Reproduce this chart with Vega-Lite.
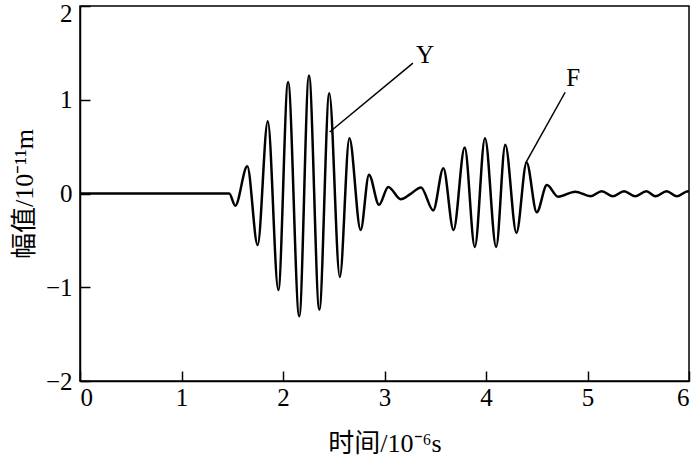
{
  "$schema": "https://vega.github.io/schema/vega-lite/v6.json",
  "width": 609,
  "height": 375,
  "autosize": {"type": "none"},
  "padding": {"left": 80, "top": 6, "right": 4, "bottom": 84},
  "background": "white",
  "config": {
    "view": {"stroke": "black", "strokeWidth": 1.5},
    "font": "'Liberation Serif', 'Noto Sans CJK SC', serif",
    "axis": {
      "domainColor": "black", "domainWidth": 1.5, "tickColor": "black", "tickWidth": 1.5,
      "grid": false, "labelColor": "black", "titleColor": "black",
      "labelFont": "'Liberation Serif', serif", "labelFontSize": 25,
      "titleFont": "'Liberation Serif', 'Noto Sans CJK SC', serif", "titleFontSize": 26, "titleFontWeight": "normal"
    }
  },
  "datasets": {
    "wave": [
      {"t": 0, "a": 0}, {"t": 1.47, "a": 0}, {"t": 1.53, "a": -0.13}, {"t": 1.648, "a": 0.29},
      {"t": 1.75, "a": -0.55}, {"t": 1.85, "a": 0.77}, {"t": 1.954, "a": -1.03}, {"t": 2.05, "a": 1.19},
      {"t": 2.16, "a": -1.31}, {"t": 2.256, "a": 1.26}, {"t": 2.358, "a": -1.24}, {"t": 2.456, "a": 1.07},
      {"t": 2.56, "a": -0.89}, {"t": 2.654, "a": 0.59}, {"t": 2.765, "a": -0.39}, {"t": 2.847, "a": 0.2},
      {"t": 2.946, "a": -0.12}, {"t": 3.037, "a": 0.07}, {"t": 3.16, "a": -0.06}, {"t": 3.25, "a": -0.01},
      {"t": 3.36, "a": 0.065}, {"t": 3.48, "a": -0.18}, {"t": 3.58, "a": 0.27}, {"t": 3.68, "a": -0.39},
      {"t": 3.79, "a": 0.49}, {"t": 3.89, "a": -0.57}, {"t": 3.99, "a": 0.59}, {"t": 4.1, "a": -0.57},
      {"t": 4.19, "a": 0.52}, {"t": 4.3, "a": -0.42}, {"t": 4.4, "a": 0.33}, {"t": 4.5, "a": -0.2},
      {"t": 4.6, "a": 0.09}, {"t": 4.71, "a": -0.034}, {"t": 4.88, "a": 0.02}, {"t": 5.03, "a": -0.03},
      {"t": 5.14, "a": 0.025}, {"t": 5.25, "a": -0.03}, {"t": 5.36, "a": 0.025}, {"t": 5.47, "a": -0.03},
      {"t": 5.58, "a": 0.025}, {"t": 5.67, "a": -0.03}, {"t": 5.78, "a": 0.025}, {"t": 5.88, "a": -0.03},
      {"t": 5.99, "a": 0.025}, {"t": 6.0, "a": 0.02}
    ],
    "pointers": [
      {"t": 3.28, "a": 1.39, "t2": 2.46, "a2": 0.656},
      {"t": 4.78, "a": 1.08, "t2": 4.39, "a2": 0.325}
    ],
    "labels": [
      {"t": 3.40, "a": 1.48, "label": "Y"},
      {"t": 4.86, "a": 1.23, "label": "F"}
    ]
  },
  "layer": [
    {
      "data": {"name": "wave"},
      "mark": {"type": "line", "color": "black", "strokeWidth": 2.5, "interpolate": "monotone", "clip": true},
      "encoding": {
        "x": {"field": "t", "type": "quantitative", "scale": {"domain": [0, 6], "nice": false},
              "axis": {"values": [0, 1, 2, 3, 4, 5, 6], "format": "d", "tickSize": -10, "labelPadding": 14, "title": "时间/10⁻⁶s", "titlePadding": 20}},
        "y": {"field": "a", "type": "quantitative", "scale": {"domain": [-2, 2], "nice": false},
              "axis": {"values": [-2, -1, 0, 1, 2], "format": "d", "tickSize": -10, "labelPadding": 18,
                       "labelOffset": {"condition": {"test": "datum.value == 2", "value": 7}, "value": 0},
                       "title": "幅值/10⁻¹¹m", "titlePadding": 8}}
      }
    },
    {
      "data": {"name": "pointers"},
      "mark": {"type": "rule", "color": "black", "strokeWidth": 1.5},
      "encoding": {
        "x": {"field": "t", "type": "quantitative"},
        "y": {"field": "a", "type": "quantitative"},
        "x2": {"field": "t2"},
        "y2": {"field": "a2"}
      }
    },
    {
      "data": {"name": "labels"},
      "mark": {"type": "text", "color": "black", "fontSize": 25, "font": "'Liberation Serif', serif", "baseline": "middle", "align": "center"},
      "encoding": {
        "x": {"field": "t", "type": "quantitative"},
        "y": {"field": "a", "type": "quantitative"},
        "text": {"field": "label"}
      }
    }
  ]
}
